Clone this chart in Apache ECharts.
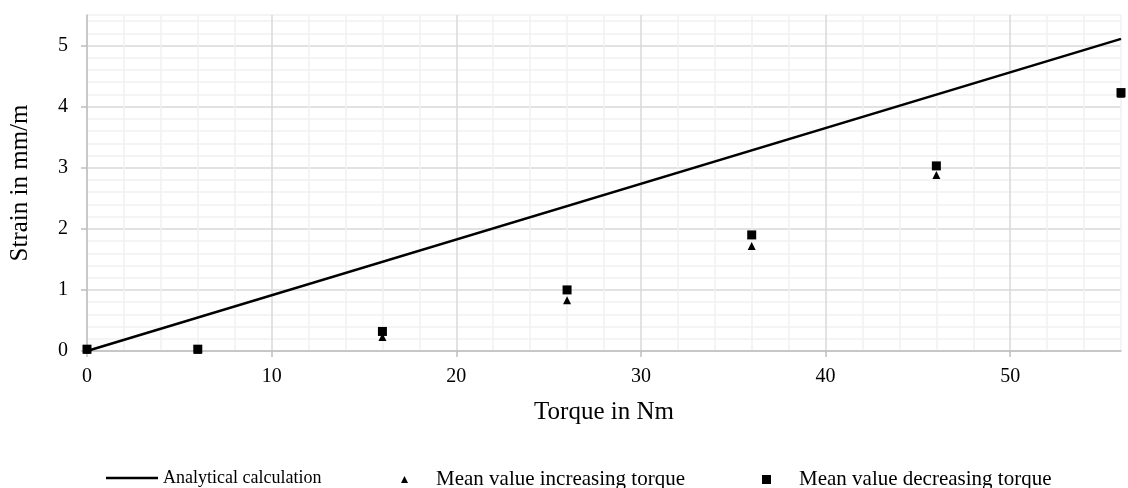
<!DOCTYPE html>
<html>
<head>
<meta charset="utf-8">
<script src="https://cdn.jsdelivr.net/npm/echarts@6/dist/echarts.min.js"></script>
<style>
    html, body { margin: 0; padding: 0; background: #fff; }
    #chart { width: 1128px; height: 488px; }
</style>
</head>
<body>
<div id="chart"></div>
<script>
(function () {
    'use strict';
    // torque steps in Nm
    var torque = [0, 6, 16, 26, 36, 46, 56];
    // measured strain in mm/m
    var increasing = [0.02, 0.02, 0.23, 0.83, 1.72, 2.88, 4.21];
    var decreasing = [0.03, 0.03, 0.32, 1.00, 1.90, 3.03, 4.23];
    // analytical line end points
    var analyticalX = [0, 56];
    var analyticalY = [0, 5.11];
    var xTicks = [0, 10, 20, 30, 40, 50];
    var yTicks = [0, 1, 2, 3, 4, 5];

    var serif = '"Liberation Serif", "DejaVu Serif", serif';
    // every 5th grid line is a major one
    var gridColors = ['#d9d9d9', '#f0f0f0', '#f0f0f0', '#f0f0f0', '#f0f0f0'];

    function pairs(xs, ys) {
        return xs.map(function (x, i) { return [x, ys[i]]; });
    }

    var chart = echarts.init(document.getElementById('chart'));
    chart.setOption({
        animation: false,
        textStyle: { fontFamily: serif, color: '#000' },
        grid: { left: 86, right: 7, top: 15, bottom: 137 },
        xAxis: [
            {
                type: 'value', position: 'bottom', min: 0, max: 56,
                name: 'Torque in Nm', nameLocation: 'middle', nameGap: 49,
                nameTextStyle: { fontFamily: serif, fontSize: 25, color: '#000' },
                axisLine: { lineStyle: { color: '#bfbfbf', width: 1.5 } },
                axisTick: { customValues: xTicks, length: 6, lineStyle: { color: '#bfbfbf', width: 1.5 } },
                axisLabel: { customValues: xTicks, fontFamily: serif, fontSize: 20, color: '#000', margin: 16 },
                splitLine: { show: false }
            },
            {
                // minor/major grid only
                type: 'value', position: 'top', min: 0, max: 56, interval: 2,
                axisLine: { show: false }, axisTick: { show: false }, axisLabel: { show: false },
                splitLine: { show: true, lineStyle: { color: gridColors, width: 1.5 } }
            }
        ],
        yAxis: [
            {
                type: 'value', position: 'left', min: 0, max: 5.5,
                name: 'Strain in mm/m', nameLocation: 'middle', nameGap: 54,
                nameTextStyle: { fontFamily: serif, fontSize: 25, color: '#000' },
                axisLine: { show: true, lineStyle: { color: '#bfbfbf', width: 1.5 } },
                axisTick: { show: true, customValues: yTicks, length: 6, lineStyle: { color: '#bfbfbf', width: 1.5 } },
                axisLabel: { customValues: yTicks, fontFamily: serif, fontSize: 20, color: '#000', margin: 19 },
                splitLine: { show: false }
            },
            {
                type: 'value', position: 'right', min: 0, max: 5.5, interval: 0.2,
                axisLine: { show: false }, axisTick: { show: false }, axisLabel: { show: false },
                splitLine: { show: true, lineStyle: { color: gridColors, width: 1.5 } }
            }
        ],
        legend: [
            {
                left: 106, top: 469, padding: 0, icon: 'rect', itemWidth: 52, itemHeight: 2.5,
                textStyle: { fontFamily: serif, fontSize: 18, color: '#000' },
                data: ['Analytical calculation']
            },
            {
                left: 401, top: 469, padding: 0, icon: 'triangle', itemWidth: 7, itemHeight: 7,
                textStyle: { fontFamily: serif, fontSize: 21, color: '#000', padding: [0, 0, 0, 23] },
                data: ['Mean value increasing torque']
            },
            {
                left: 762, top: 469, padding: 0, icon: 'rect', itemWidth: 9, itemHeight: 9,
                textStyle: { fontFamily: serif, fontSize: 21, color: '#000', padding: [0, 0, 0, 23] },
                data: ['Mean value decreasing torque']
            }
        ],
        series: [
            {
                name: 'Analytical calculation', type: 'line',
                data: pairs(analyticalX, analyticalY),
                symbol: 'none', itemStyle: { color: '#000' },
                lineStyle: { color: '#000', width: 2.5 }
            },
            {
                name: 'Mean value increasing torque', type: 'scatter',
                data: pairs(torque, increasing),
                symbol: 'triangle', symbolSize: 8,
                itemStyle: { color: '#000', opacity: 1 }
            },
            {
                name: 'Mean value decreasing torque', type: 'scatter',
                data: pairs(torque, decreasing),
                symbol: 'rect', symbolSize: 9,
                itemStyle: { color: '#000', opacity: 1 }
            }
        ]
    });
    window.onresize = function () { chart.resize(); };
})();
</script>
</body>
</html>
